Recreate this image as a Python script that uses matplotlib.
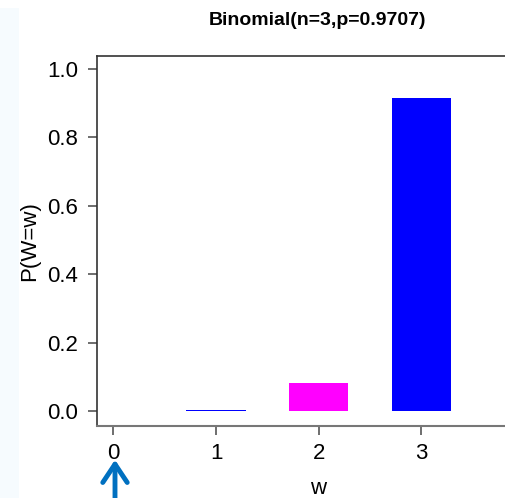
import matplotlib
matplotlib.use("Agg")
import matplotlib.pyplot as plt
from matplotlib.patches import FancyArrowPatch, Rectangle
from math import comb

n = 3
p = 0.9707
w_values = [0, 1, 2, 3]
probs = [comb(n, k) * p**k * (1 - p)**(n - k) for k in w_values]
bar_colors = ["#0000FF", "#0000FF", "#FF00FF", "#0000FF"]
y_ticks = [0.0, 0.2, 0.4, 0.6, 0.8, 1.0]
title = "Binomial(n=3,p=0.9707)"

plt.rcParams['font.family'] = ['Liberation Sans', 'DejaVu Sans']

W, H = 505, 498
fig = plt.figure(figsize=(W / 100, H / 100), dpi=100)

# pale strip at left edge
fig.patches.append(Rectangle((0, 0), 19 / W, (H - 8) / H, transform=fig.transFigure,
                             facecolor="#F6FBFE", edgecolor="none", zorder=0))

left, right, top, bottom = 97, 540, 56, 426
ax = fig.add_axes([left / W, (H - bottom) / H, (right - left) / W, (bottom - top) / H])
ax.bar(w_values, probs, width=0.58, color=bar_colors, edgecolor="none")
ax.set_xlim(-0.16, 4.156)
ax.set_ylim(-0.044, 1.038)
ax.set_xticks(w_values)
ax.set_yticks(y_ticks)
ax.set_yticklabels([f"{v:.1f}" for v in y_ticks])
ax.tick_params(axis="both", labelsize=16, length=6.5, width=1.2, color="#555555")
ax.tick_params(axis="y", pad=7)
ax.tick_params(axis="x", pad=6)
for s in ["left", "top"]:
    ax.spines[s].set_color("#333333")
    ax.spines[s].set_linewidth(1.2)
ax.spines["bottom"].set_color("#777777")
ax.spines["bottom"].set_linewidth(1.5)
ax.spines["right"].set_visible(False)
ax.set_ylabel("P(W=w)", fontsize=16, labelpad=5)
ax.set_xlabel("w", fontsize=16, labelpad=10)

fig.text(318 / W, 1 - 20 / H, title, ha="center", va="center", fontsize=14, fontweight="bold")

arrow = FancyArrowPatch((115 / W, -0.02), (115 / W, 1 - 457 / H), transform=fig.transFigure,
                        arrowstyle="->,head_length=6,head_width=4", color="#0070C0", lw=3.5,
                        mutation_scale=2.2)
fig.patches.append(arrow)

fig.savefig("out.png", dpi=100)
